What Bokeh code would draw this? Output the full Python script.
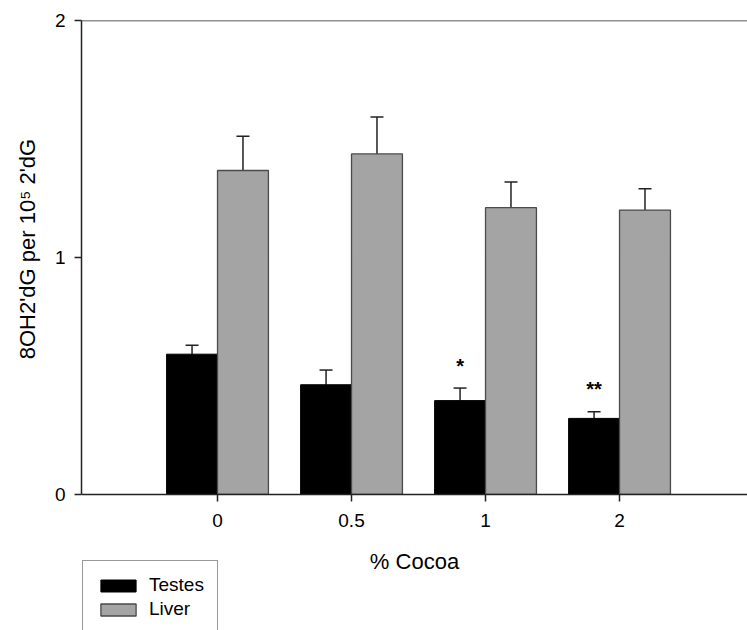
from bokeh.plotting import figure
from bokeh.models import (ColumnDataSource, Whisker, TeeHead, Legend, LegendItem,
                          Span, FixedTicker, Range1d)
from bokeh.core.properties import value
from bokeh.embed import file_html
from bokeh.resources import INLINE

# ---- data ----
cocoa_labels = ["0", "0.5", "1", "2"]
testes = [0.592, 0.463, 0.396, 0.321]
testes_err = [0.038, 0.062, 0.053, 0.028]
liver = [1.367, 1.437, 1.210, 1.200]
liver_err = [0.145, 0.156, 0.108, 0.090]
sig_marks = ["", "", "*", "**"]

FONT = "Liberation Sans"
BAR_W = 0.38
OFF = 0.19

pos = list(range(len(cocoa_labels)))
t_src = ColumnDataSource(dict(
    x=[p_ - OFF for p_ in pos], top=testes,
    upper=[v + e for v, e in zip(testes, testes_err)],
))
l_src = ColumnDataSource(dict(
    x=[p_ + OFF for p_ in pos], top=liver,
    upper=[v + e for v, e in zip(liver, liver_err)],
))
s_src = ColumnDataSource(dict(
    x=[p_ - OFF for p_ in pos],
    y=[v + e + 0.095 for v, e in zip(testes, testes_err)],
    text=sig_marks,
))

p = figure(width=747, height=630, output_backend="svg", toolbar_location=None,
           x_range=Range1d(-1.015, 3.955), y_range=Range1d(-0.574, 2.0),
           min_border_left=81, min_border_right=0, min_border_top=20,
           min_border_bottom=0)
p.outline_line_color = None
p.xgrid.visible = False
p.ygrid.visible = False
p.background_fill_color = "white"

tr = p.vbar(x="x", top="top", width=BAR_W, bottom=0, source=t_src,
            fill_color="black", line_color="black", line_width=1)
lr = p.vbar(x="x", top="top", width=BAR_W, bottom=0, source=l_src,
            fill_color="#a4a4a4", line_color="#4a4a4a", line_width=1.3)

for src in (t_src, l_src):
    w = Whisker(base="x", lower="top", upper="upper", source=src,
                line_color="#222222", line_width=1.5,
                lower_head=None,
                upper_head=TeeHead(size=13, line_color="#222222", line_width=1.5))
    p.add_layout(w)

p.text(x="x", y="y", text="text", source=s_src, text_align="center",
       text_baseline="alphabetic", text_font=value(FONT),
       text_font_size="20px", text_font_style="bold", text_color="black")

p.add_layout(Span(location=2, dimension="width", line_color="#222222",
                  line_width=1.5))

# axes
p.xaxis.fixed_location = 0
p.xaxis.ticker = FixedTicker(ticks=pos)
p.xaxis.major_label_overrides = {i: s for i, s in enumerate(cocoa_labels)}
p.yaxis.ticker = FixedTicker(ticks=[0, 1, 2])
p.yaxis.bounds = (0, 2)
p.xaxis.axis_label = "% Cocoa"
# leading no-break spaces lift the rotated label so it centres on the 0-2 axis
p.yaxis.axis_label = "\u00a0" * 25 + "8OH2'dG per 10\u2075 2'dG"
for ax in (p.xaxis[0], p.yaxis[0]):
    ax.axis_line_color = "#222222"
    ax.axis_line_width = 1.5
    ax.major_tick_line_color = "#222222"
    ax.major_tick_line_width = 1.5
    ax.major_tick_out = 7
    ax.major_tick_in = 0
    ax.minor_tick_line_color = None
    ax.major_label_text_font = FONT
    ax.major_label_text_color = "black"
    ax.axis_label_text_font = FONT
    ax.axis_label_text_font_size = "22px"
    ax.axis_label_text_font_style = "normal"
    ax.axis_label_text_color = "black"
p.xaxis.major_label_text_font_size = "19px"
p.yaxis.major_label_text_font_size = "19px"
p.xaxis.major_label_standoff = 13
p.xaxis.axis_label_standoff = 18
p.yaxis.major_label_standoff = 9
p.yaxis.axis_label_standoff = 12

legend = Legend(items=[LegendItem(label="Testes", renderers=[tr]),
                       LegendItem(label="Liver", renderers=[lr])],
                location=(1, -4), padding=13, margin=0, spacing=2,
                glyph_width=44, glyph_height=15, label_height=15,
                label_standoff=9, label_text_font=FONT,
                label_text_font_size="19px", label_text_color="black",
                border_line_color="#333333", border_line_width=1.2,
                background_fill_color="white", background_fill_alpha=1.0)
p.add_layout(legend, "center")

open("out.html", "w").write(file_html(p, INLINE))
